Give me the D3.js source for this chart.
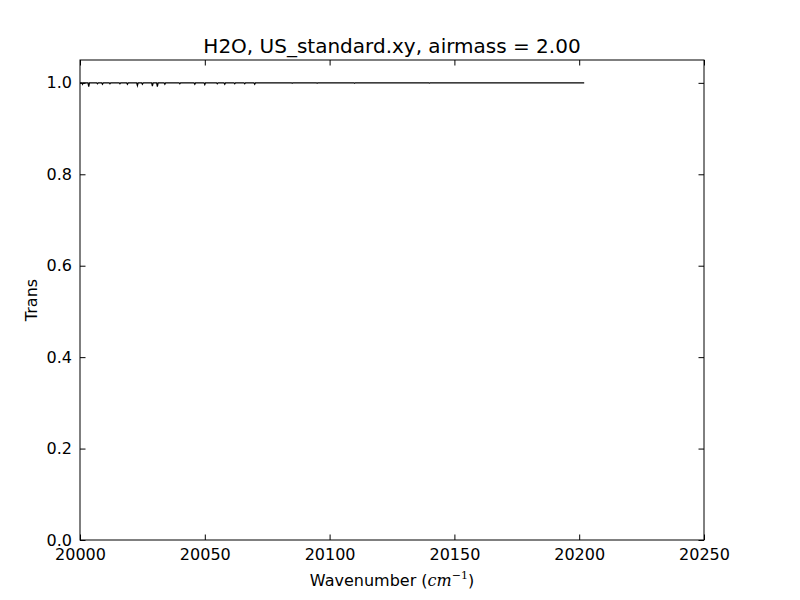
<!DOCTYPE html>
<html>
<head>
<meta charset="utf-8">
<script src="https://cdn.jsdelivr.net/npm/d3@7"></script>
<style>
  html, body { margin: 0; padding: 0; background: #fff; }
  svg { display: block; }
  text { font-family: "DejaVu Sans", sans-serif; fill: #000; }
</style>
</head>
<body>
<svg id="chart" width="800" height="600"></svg>
<script>
// ---- data ----
const titleText = "H2O, US_standard.xy, airmass = 2.00";
const xTicks = [20000, 20050, 20100, 20150, 20200, 20250];
const yTicks = [0.0, 0.2, 0.4, 0.6, 0.8, 1.0];
const wavenumber = [
  20000.0, 20000.8, 20001.0, 20001.3, 20003.2, 20003.5, 20003.8, 20006.7, 20007.0, 20007.3,
  20008.7, 20009.0, 20009.3, 20011.7, 20012.0, 20012.3, 20015.7, 20016.0, 20016.3, 20018.7,
  20019.0, 20019.3, 20022.7, 20023.0, 20023.3, 20024.7, 20025.0, 20025.3, 20028.7, 20029.0,
  20029.3, 20030.7, 20031.0, 20031.3, 20033.7, 20034.0, 20034.3, 20039.7, 20040.0, 20040.3,
  20045.7, 20046.0, 20046.3, 20049.7, 20050.0, 20050.3, 20054.7, 20055.0, 20055.3, 20057.7,
  20058.0, 20058.3, 20061.7, 20062.0, 20062.3, 20065.7, 20066.0, 20066.3, 20069.7, 20070.0,
  20070.3, 20084.7, 20085.0, 20085.3, 20094.7, 20095.0, 20095.3, 20109.7, 20110.0, 20110.3,
  20139.7, 20140.0, 20140.3, 20202.0
];
const trans = [
  1.000, 1.000, 0.997, 1.000, 1.000, 0.992, 1.000, 1.000, 0.998, 1.000,
  1.000, 0.997, 1.000, 1.000, 0.998, 1.000, 1.000, 0.998, 1.000, 1.000,
  0.997, 1.000, 1.000, 0.994, 1.000, 1.000, 0.997, 1.000, 1.000, 0.993,
  1.000, 1.000, 0.992, 1.000, 1.000, 0.997, 1.000, 1.000, 0.998, 1.000,
  1.000, 0.997, 1.000, 1.000, 0.996, 1.000, 1.000, 0.998, 1.000, 1.000,
  0.997, 1.000, 1.000, 0.998, 1.000, 1.000, 0.998, 1.000, 1.000, 0.997,
  1.000, 1.000, 0.999, 1.000, 1.000, 0.999, 1.000, 1.000, 0.999, 1.000,
  1.000, 0.9995, 1.000, 1.000
];

// ---- layout ----
const svg = d3.select("#chart");
const pLeft = 80, pRight = 704, pTop = 60, pBottom = 540;
const x = d3.scaleLinear().domain([20000, 20250]).range([pLeft, pRight]);
const y = d3.scaleLinear().domain([0, 1.05]).range([pBottom, pTop]);
const tickLen = 5.5;

// line
const pts = wavenumber.map((w, i) => [w, trans[i]]);
svg.append("path")
  .datum(pts)
  .attr("fill", "none")
  .attr("stroke", "#000")
  .attr("stroke-width", 1.2)
  .attr("d", d3.line().x(d => x(d[0])).y(d => y(d[1])));

// axes (inward ticks on all sides, matplotlib classic style)
const fmtY = d3.format(".1f");
const gB = svg.append("g").attr("transform", `translate(0,${pBottom})`)
  .call(d3.axisBottom(x).tickValues(xTicks).tickFormat(d3.format("d")).tickSizeInner(-tickLen).tickSizeOuter(0).tickPadding(9));
const gT = svg.append("g").attr("transform", `translate(0,${pTop})`)
  .call(d3.axisTop(x).tickValues(xTicks).tickFormat("").tickSizeInner(-tickLen).tickSizeOuter(0));
const gL = svg.append("g").attr("transform", `translate(${pLeft},0)`)
  .call(d3.axisLeft(y).tickValues(yTicks).tickFormat(fmtY).tickSizeInner(-tickLen).tickSizeOuter(0).tickPadding(8));
const gR = svg.append("g").attr("transform", `translate(${pRight},0)`)
  .call(d3.axisRight(y).tickValues(yTicks).tickFormat("").tickSizeInner(-tickLen).tickSizeOuter(0));

[gB, gT, gL, gR].forEach(g => {
  g.select(".domain").remove();
  g.selectAll("line").attr("stroke", "#000").attr("stroke-width", 1);
  g.selectAll("text").attr("font-family", "DejaVu Sans").attr("font-size", 16).attr("fill", "#000");
});

// frame
svg.append("rect")
  .attr("x", pLeft).attr("y", pTop)
  .attr("width", pRight - pLeft).attr("height", pBottom - pTop)
  .attr("fill", "none").attr("stroke", "#000").attr("stroke-width", 1);

// title
svg.append("text")
  .attr("x", (pLeft + pRight) / 2).attr("y", 53)
  .attr("text-anchor", "middle")
  .attr("font-size", 20)
  .text(titleText);

// x label with mathtext
const xl = svg.append("text")
  .attr("x", (pLeft + pRight) / 2).attr("y", 586)
  .attr("text-anchor", "middle")
  .attr("font-size", 16);
xl.append("tspan").text("Wavenumber (");
xl.append("tspan").attr("font-family", "DejaVu Serif").attr("font-style", "italic").text("cm");
xl.append("tspan").attr("font-family", "DejaVu Serif").attr("font-size", 11).attr("dy", -7).text("−1");
xl.append("tspan").attr("dy", 7).text(")");

// y label
svg.append("text")
  .attr("transform", `translate(37,${(pTop + pBottom) / 2}) rotate(-90)`)
  .attr("text-anchor", "middle")
  .attr("font-size", 16)
  .text("Trans");
</script>
</body>
</html>
